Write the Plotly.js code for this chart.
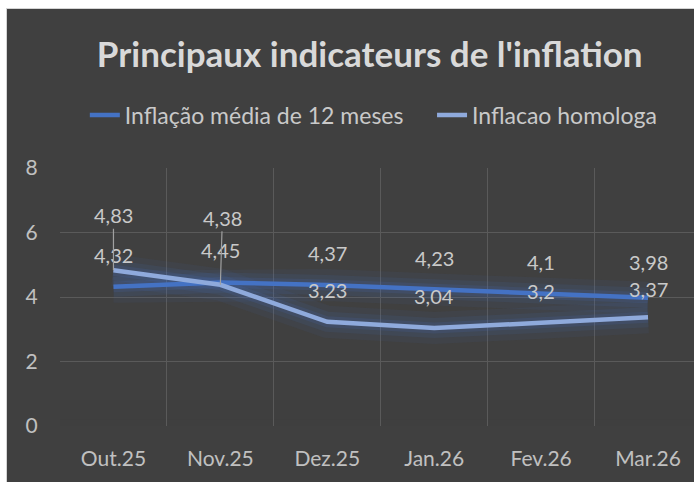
<!DOCTYPE html>
<html>
<head>
<meta charset="utf-8">
<script src="https://cdn.plot.ly/plotly-3.0.1.min.js"></script>
<style>
  html, body { margin: 0; padding: 0; background: #ffffff; overflow: hidden; }
  #chart { position: absolute; left: 6px; top: 8px; width: 688px; height: 474px;
           border-left: 1px solid #d4d4d4; border-top: 1px solid #d4d4d4; box-sizing: border-box; }
</style>
</head>
<body>
<div id="chart"></div>
<script>
// ---- data ----
const categories = ["Out.25", "Nov.25", "Dez.25", "Jan.26", "Fev.26", "Mar.26"];
const mediaValues = [4.32, 4.45, 4.37, 4.23, 4.1, 3.98];
const homologaValues = [4.83, 4.38, 3.23, 3.04, 3.2, 3.37];
const mediaName = "Inflação média de 12 meses";
const homologaName = "Inflacao homologa";
const yTicks = [0, 2, 4, 6, 8];
const titleText = "Principaux indicateurs de l'inflation";

const fmt = v => String(v).replace(".", ",");
const FONT = "Lato, 'Open Sans', sans-serif";
const darkBlue = "#4472C4";
const lightBlue = "#8FAADC";
const labelColor = "#c9c9c9";
const NB = "\u00a0";

function glow(values, color, width) {
  return { x: categories, y: values, type: "scatter", mode: "lines",
           line: { color: color, width: width }, showlegend: false, hoverinfo: "skip" };
}

const traces = [
  glow(mediaValues, "rgba(68,114,196,0.07)", 32),
  glow(mediaValues, "rgba(68,114,196,0.10)", 20),
  glow(mediaValues, "rgba(68,114,196,0.14)", 11),
  glow(homologaValues, "rgba(68,114,196,0.07)", 32),
  glow(homologaValues, "rgba(68,114,196,0.10)", 20),
  glow(homologaValues, "rgba(68,114,196,0.14)", 11),
  { x: categories, y: mediaValues, type: "scatter", mode: "lines", name: mediaName + NB + NB + NB + NB,
    line: { color: darkBlue, width: 4.5 } },
  { x: categories, y: homologaValues, type: "scatter", mode: "lines", name: homologaName,
    line: { color: lightBlue, width: 4.5 } }
];

const annotations = [];
const mediaShift = [32, 32, 32, 32, 32, 36];
mediaValues.forEach((v, i) => {
  annotations.push({ x: categories[i], y: v, xref: "x", yref: "y", text: fmt(v),
    showarrow: false, yshift: mediaShift[i], font: { family: FONT, size: 20, color: labelColor } });
});
// moved labels with leader lines for the first two homologa points
const homologaOffsets = [-55, -67];
const homologaShift = [0, 0, 32, 32, 32, 28];
homologaValues.forEach((v, i) => {
  if (i < 2) {
    annotations.push({ x: categories[i], y: v, xref: "x", yref: "y", text: fmt(v),
      showarrow: true, arrowhead: 0, arrowwidth: 1.2, arrowcolor: "#a0a0a0",
      ax: i === 1 ? 2 : 0, ay: homologaOffsets[i], standoff: 0,
      font: { family: FONT, size: 20, color: labelColor } });
  } else {
    annotations.push({ x: categories[i], y: v, xref: "x", yref: "y", text: fmt(v),
      showarrow: false, yshift: homologaShift[i], font: { family: FONT, size: 20, color: labelColor } });
  }
});

// fade of gridlines toward the bottom
const shapes = [];
[[1.1, 0.25], [0.8, 0.35], [0.5, 0.5], [0.2, 0.7]].forEach(([top, op]) => {
  shapes.push({ type: "rect", xref: "paper", yref: "y", x0: 0, x1: 1, y0: -0.05, y1: top,
    fillcolor: "#404040", opacity: op, line: { width: 0 }, layer: "below" });
});

const layout = {
  width: 687, height: 473,
  paper_bgcolor: "#404040", plot_bgcolor: "#404040",
  margin: { l: 53, r: 0, t: 159, b: 56 },
  title: { text: titleText, x: 0.528, xref: "container", xanchor: "center",
           y: 1 - 46 / 473, yref: "container", yanchor: "middle",
           font: { family: FONT, size: 35, color: "#d9d9d9", weight: "bold" } },
  showlegend: true,
  legend: { orientation: "h", x: 0.495, xanchor: "center", xref: "paper",
            y: 1 - 106 / 473, yref: "container", yanchor: "middle",
            font: { family: FONT, size: 23, color: "#c9c9c9" },
            bgcolor: "rgba(0,0,0,0)", itemwidth: 30, tracegroupgap: 0 },
  xaxis: { type: "category", categoryarray: categories, range: [-0.5, 5.43],
           tickson: "boundaries", showgrid: true, gridcolor: "#5a5a5a", gridwidth: 1,
           showline: false, zeroline: false, ticks: "outside", ticklen: 4,
           ticklabelstandoff: 18,
           tickcolor: "rgba(0,0,0,0)", tickfont: { family: FONT, size: 21, color: "#c0c0c0" },
           fixedrange: true },
  yaxis: { range: [0, 8], tickvals: yTicks, ticktext: yTicks.map(String),
           showgrid: true, gridcolor: "#5a5a5a", gridwidth: 1, zeroline: false,
           showline: false, ticks: "outside", ticklen: 17, tickcolor: "rgba(0,0,0,0)",
           tickfont: { family: FONT, size: 21, color: "#c0c0c0" }, fixedrange: true },
  annotations: annotations,
  shapes: shapes,
  hovermode: false
};

Plotly.newPlot("chart", traces, layout, { displayModeBar: false, staticPlot: true });
</script>
</body>
</html>
